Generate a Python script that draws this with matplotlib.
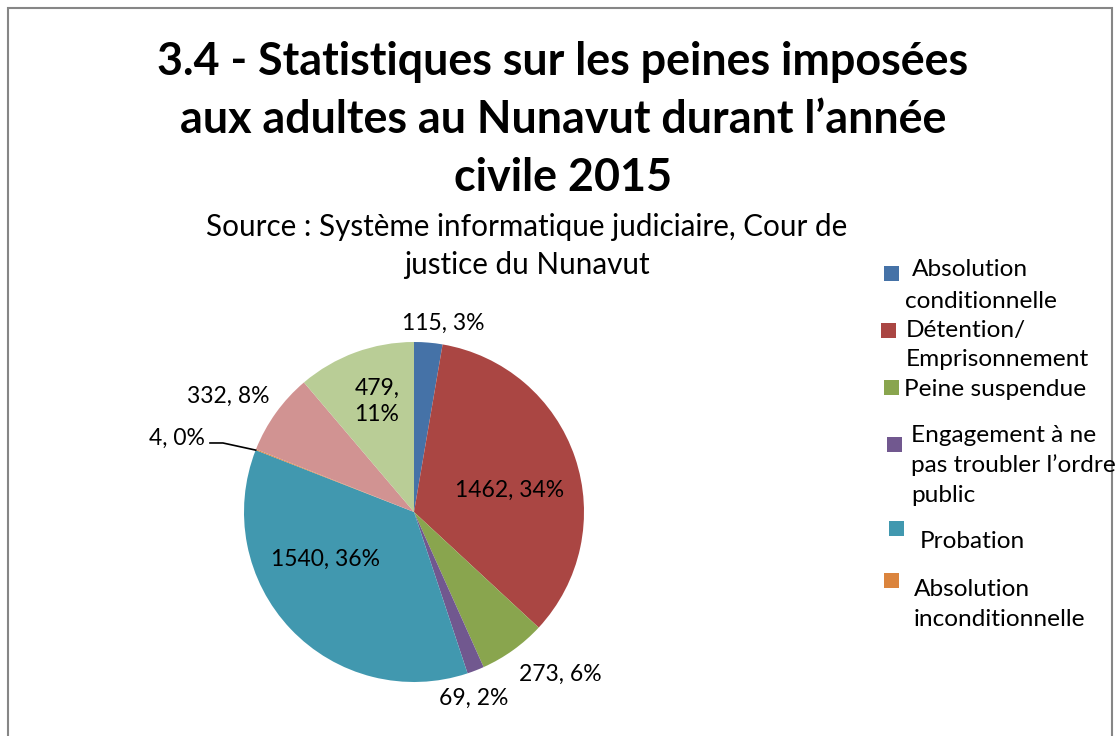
import matplotlib
matplotlib.use("Agg")
import matplotlib.pyplot as plt
from matplotlib.patches import Rectangle
import numpy as np

# ---- data ----
categories = ["Absolution conditionnelle", "Détention/ Emprisonnement", "Peine suspendue",
              "Engagement à ne pas troubler l’ordre public", "Probation",
              "Absolution inconditionnelle", "Amende", "Autre"]
values = [115, 1462, 273, 69, 1540, 4, 332, 479]
percent_labels = ["3%", "34%", "6%", "2%", "36%", "0%", "8%", "11%"]
colors = ["#4572A7", "#AA4643", "#89A54E", "#71588F", "#4198AF", "#DB843D", "#D19392", "#B9CD96"]

title = "3.4 - Statistiques sur les peines imposées\naux adultes au Nunavut durant l’année\ncivile 2015"
subtitle = "Source : Système informatique judiciaire, Cour de\njustice du Nunavut"

# legend text as wrapped in the original (visible entries only)
legend_lines = [["Absolution", "conditionnelle"],
                ["Détention/", "Emprisonnement"],
                ["Peine suspendue"],
                ["Engagement à ne", "pas troubler l’ordre", "public"],
                ["Probation"],
                ["Absolution", "inconditionnelle"]]

FONT = "Lato"
W, H = 1118, 736
fig = plt.figure(figsize=(W / 100, H / 100), dpi=100)

# frame
fig.patches.append(Rectangle((8 / W, -0.05), (1112 - 8) / W, (H - 8) / H + 0.05,
                             transform=fig.transFigure, fill=False, edgecolor="#868686", lw=1.5))

# pie axes: center (414,512) px, radius 170 px
R = 170
lim = 1.3
size = 2 * lim * R
ax = fig.add_axes([(414 - size / 2) / W, (H - 512 - size / 2) / H, size / W, size / H])
wedges, _ = ax.pie(values, colors=colors, startangle=90, counterclock=False, radius=1.0,
                   wedgeprops=dict(edgecolor="none", linewidth=0))
ax.set_xlim(-lim, lim)
ax.set_ylim(-lim, lim)
ax.set_aspect("equal")
ax.axis("off")

# label layout (positions in pie-radius units)
label_pos = [(0.171, 1.112, "center"), (0.565, 0.129, "center"), (0.859, -0.953, "center"),
             (0.353, -1.094, "center"), (-0.521, -0.276, "center"), (-1.229, 0.435, "right"),
             (-1.094, 0.682, "center"), (-0.218, 0.650, "center")]
for i, (v, p) in enumerate(zip(values, percent_labels)):
    x, y, ha = label_pos[i]
    txt = f"{v}, {p}" if i != 7 else f"{v},\n{p}"
    ax.text(x, y, txt, ha=ha, va="center", fontsize=16.5, family=FONT, linespacing=1.3)

# leader line for the tiny slice
th = np.deg2rad(wedges[5].theta2)
ax.plot([-1.2, -1.124, np.cos(th)], [0.406, 0.406, np.sin(th)], color="black", lw=1.2)

# titles
fig.text(563 / W, 1 - 120 / H, title, ha="center", va="center", fontsize=32.3, fontweight="bold",
         family=FONT, linespacing=1.47)
fig.text(527 / W, 1 - 246 / H, subtitle, ha="center", va="center", fontsize=21.3, family=FONT,
         linespacing=1.45)

# legend (first six entries visible)
squares = [(884, 266), (881, 323), (884, 380), (887, 437), (889, 521), (884, 573)]
text_x = [[912, 905], [906, 906], [904], [911, 911, 911], [920], [914, 914]]
text_y = [[268, 299], [328, 357], [387], [433, 463, 494], [539], [587, 618]]
for i, (sx, sy) in enumerate(squares):
    fig.patches.append(Rectangle((sx / W, 1 - (sy + 15) / H), 15 / W, 15 / H,
                                 transform=fig.transFigure, facecolor=colors[i], edgecolor="none"))
    for line, tx, ty in zip(legend_lines[i], text_x[i], text_y[i]):
        fig.text(tx / W, 1 - ty / H, line, ha="left", va="center_baseline",
                 fontsize=17.6, family=FONT)

fig.savefig("out.png", dpi=100)
